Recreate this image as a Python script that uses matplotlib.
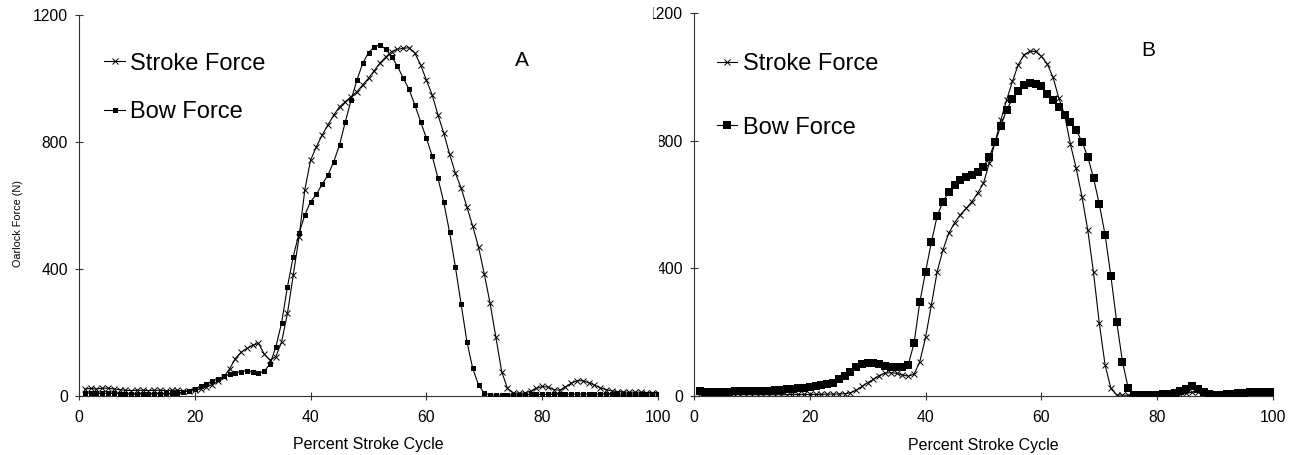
import matplotlib
matplotlib.use("Agg")
import matplotlib.pyplot as plt
from matplotlib.transforms import Bbox, TransformedBbox, IdentityTransform
import numpy as np

plt.rcParams['font.family'] = ['Liberation Sans', 'DejaVu Sans']

# ---------------- data ----------------
percent_cycle = list(range(1, 101))

stroke_force_A = [
    22, 24, 22, 24, 25, 22, 20, 18, 17, 18,
    18, 17, 18, 18, 17, 18, 18, 16, 15, 18,
    22, 28, 36, 46, 60, 85, 118, 138, 150, 160,
    166, 132, 113, 124, 171, 260, 380, 500, 649, 743,
    785, 822, 854, 885, 911, 927, 943, 958, 980, 1001,
    1025, 1049, 1068, 1085, 1092, 1095, 1097, 1080, 1043, 995,
    948, 885, 828, 762, 702, 655, 595, 535, 469, 384,
    292, 185, 77, 24, 10, 9, 10, 15, 24, 30,
    28, 20, 18, 28, 40, 48, 48, 42, 35, 26,
    20, 16, 14, 13, 12, 12, 12, 11, 11, 11,
]

bow_force_A = [
    9, 9, 8, 8, 9, 8, 7, 7, 6, 6,
    6, 7, 7, 7, 8, 8, 9, 12, 17, 23,
    30, 38, 46, 54, 62, 68, 73, 77, 80, 75,
    72, 78, 101, 155, 231, 344, 439, 512, 570, 612,
    635, 667, 696, 738, 791, 864, 932, 995, 1048, 1081,
    1100, 1106, 1092, 1069, 1039, 1001, 966, 917, 864, 812,
    756, 686, 610, 516, 407, 289, 171, 87, 35, 8,
    4, 3, 3, 3, 4, 4, 4, 5, 5, 5,
    5, 5, 6, 6, 6, 6, 6, 6, 6, 6,
    6, 6, 6, 6, 6, 6, 6, 6, 6, 6,
]

stroke_force_B = [
    6, 5, 5, 5, 4, 4, 4, 4, 4, 4,
    4, 4, 4, 4, 4, 4, 5, 5, 5, 5,
    5, 5, 6, 6, 6, 7, 10, 18, 30, 42,
    52, 64, 72, 73, 71, 66, 62, 68, 108, 184,
    285, 390, 458, 510, 543, 568, 588, 609, 636, 667,
    730, 795, 865, 928, 986, 1038, 1069, 1080, 1080, 1064,
    1041, 999, 934, 881, 790, 714, 625, 521, 387, 228,
    97, 24, 3, 3, 2, 2, 2, 3, 3, 3,
    4, 4, 5, 6, 8, 12, 14, 12, 8, 5,
    4, 4, 4, 5, 5, 6, 6, 7, 7, 7,
]

bow_force_B = [
    15, 14, 12, 12, 13, 14, 15, 16, 17, 15,
    15, 16, 17, 18, 20, 21, 22, 24, 26, 28,
    31, 34, 37, 40, 52, 64, 75, 90, 100, 104,
    104, 100, 95, 91, 90, 92, 98, 165, 294, 390,
    482, 564, 609, 639, 662, 677, 686, 693, 701, 719,
    750, 795, 847, 897, 931, 957, 975, 982, 977, 970,
    947, 928, 907, 881, 860, 834, 797, 750, 683, 601,
    505, 376, 233, 108, 24, 2, 2, 3, 3, 4,
    5, 6, 10, 15, 22, 30, 22, 12, 6, 4,
    4, 5, 6, 8, 10, 12, 13, 13, 14, 14,
]

x_ticks = [0, 20, 40, 60, 80, 100]
y_ticks = [0, 400, 800, 1200]
series_labels = ["Stroke Force", "Bow Force"]
panel_letters = ["A", "B"]
x_label = "Percent Stroke Cycle"
y_label = "Oarlock Force (N)"

# ---------------- figure ----------------
W, H = 1293, 455
fig = plt.figure(figsize=(W / 100, H / 100), dpi=100)

axA = fig.add_axes([79 / W, (H - 396) / H, 579 / W, 381 / H])
axB = fig.add_axes([694 / W, (H - 396) / H, 579 / W, 383 / H])

tick_fs = 11.3


def style_axes(ax):
    ax.set_xlim(0, 100)
    ax.set_ylim(0, 1200)
    ax.set_xticks(x_ticks)
    ax.set_yticks(y_ticks)
    ax.spines['top'].set_visible(False)
    ax.spines['right'].set_visible(False)
    for s in ('left', 'bottom'):
        ax.spines[s].set_color('#333333')
        ax.spines[s].set_linewidth(0.8)
    ax.tick_params(axis='both', direction='inout', length=6, width=0.8,
                   color='#333333', labelsize=tick_fs)
    ax.tick_params(axis='y', pad=5)
    ax.tick_params(axis='x', pad=7)
    ax.set_xlabel(x_label, fontsize=11.5)
    ax.xaxis.label.set_va('center')
    ax.xaxis.set_label_coords(0.5, (396 - 445) / 381)


style_axes(axA)
style_axes(axB)

# Panel A
axA.plot(percent_cycle, stroke_force_A, color='black', lw=0.8, marker='x',
         markersize=4.8, markeredgewidth=0.7, label=series_labels[0], zorder=2)
axA.plot(percent_cycle, bow_force_A, color='black', lw=0.8, marker='s',
         markersize=3.6, markeredgewidth=0, label=series_labels[1], zorder=3)

# Panel B
axB.plot(percent_cycle, stroke_force_B, color='black', lw=0.8, marker='x',
         markersize=4.7, markeredgewidth=0.7, label=series_labels[0], zorder=2)
axB.plot(percent_cycle, bow_force_B, color='black', lw=0.8, marker='s',
         markersize=5.3, markeredgewidth=0, label=series_labels[1], zorder=3)

axA.set_ylabel(y_label, fontsize=7.8)
axA.yaxis.label.set_va('center')
axA.yaxis.set_label_coords((18.5 - 79) / 579, (396 - 224) / 381)

# Legends
legA = axA.legend(loc='center left', bbox_to_anchor=((104 - 79) / 579, (396 - 88) / 381),
                  frameon=False, fontsize=17, borderpad=0, borderaxespad=0,
                  handlelength=0.9, handletextpad=0.22, labelspacing=1.14)
legB = axB.legend(loc='center left', bbox_to_anchor=((717 - 694) / 579, (396 - 96) / 383),
                  frameon=False, fontsize=17, borderpad=0, borderaxespad=0,
                  handlelength=0.85, handletextpad=0.26, labelspacing=1.74)

axA.text((522 - 79) / 579, (396 - 60) / 381, panel_letters[0], transform=axA.transAxes,
         fontsize=15, ha='center', va='center')
axB.text((1148 - 694) / 579, (396 - 50) / 383, panel_letters[1], transform=axB.transAxes,
         fontsize=15, ha='center', va='center')

# B's y tick labels are partly hidden behind panel A in the original
fig.canvas.draw()
clip_left = {0: 600, 400: 659, 800: 659, 1200: 653}
for val, lab in zip(axB.get_yticks(), axB.get_yticklabels()):
    x0 = clip_left.get(int(round(val)), 600)
    clip = TransformedBbox(Bbox.from_extents(x0, -10, W + 10, H + 10), IdentityTransform())
    lab.set_clip_box(clip)
    lab.set_clip_on(True)

fig.savefig("out.png", dpi=100, facecolor='white')
